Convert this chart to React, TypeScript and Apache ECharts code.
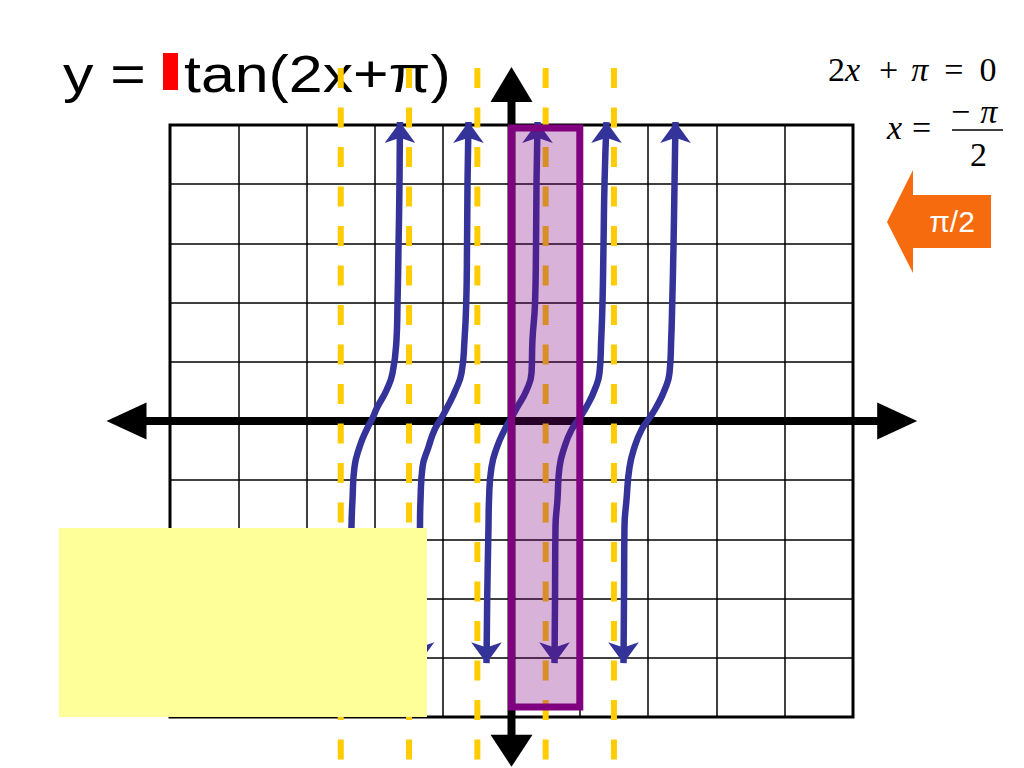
import React, { useEffect, useRef } from "react";
import * as echarts from "echarts";

// Grid: 10 x 10 cells, one cell = π/2 horizontally, one unit vertically
const axisMin = -5;
const axisMax = 5;
const axisStep = 1;

// Vertical asymptotes of y = tan(2x+π): x = π/4 + kπ/2 (in grid units of π/2)
const asymptoteX = [-2.5, -1.5, -0.5, 0.5, 1.5];
const asymptoteSpan = [5.963, -5.9];

// Branch sample heights shared by all branches
const branchY = [-4.09, -3.02, -1.79, -1.33, -0.78, -0.44, -0.15, 0.05, 0.24, 0.52, 0.81, 1.37, 1.98, 2.96, 4.02, 5.05];
// x of each branch at those heights
const branch1X = [-2.365, -2.357, -2.343, -2.328, -2.299, -2.225, -2.123, -2.035, -1.962, -1.83, -1.742, -1.684, -1.669, -1.654, -1.64, -1.633];
const branch2X = [-1.354, -1.347, -1.34, -1.332, -1.303, -1.215, -1.127, -1.025, -0.937, -0.82, -0.732, -0.688, -0.663, -0.651, -0.644, -0.63];
const branch3X = [-0.366, -0.356, -0.337, -0.329, -0.293, -0.212, -0.102, -0.004, 0.088, 0.22, 0.293, 0.307, 0.344, 0.359, 0.366, 0.381];
const branch4X = [0.63, 0.637, 0.644, 0.673, 0.703, 0.776, 0.878, 0.996, 1.098, 1.215, 1.288, 1.313, 1.332, 1.347, 1.362, 1.391];
const branch5X = [1.64, 1.647, 1.654, 1.684, 1.728, 1.801, 1.903, 2.02, 2.123, 2.24, 2.313, 2.338, 2.353, 2.372, 2.387, 2.401];
const branches = [branch1X, branch2X, branch3X, branch4X, branch5X];

// One period highlighted: x from 0 to π/2 ([x0, yTop, x1, yBottom])
const periodBox = [0, 4.95, 1, -4.83];

// Coordinate axes, arrow tip to arrow tip ([x0, y0, x1, y1])
const xAxisTips = [-5.93, 0, 5.94, 0];
const yAxisTips = [0, 5.98, 0, -5.84];

const titleLeft = "y =";
const titleRight = "tan(2x+π)";
const arrowLabel = "π/2";

const CURVE = "#333399";
const DASH = "#ffcc00";

export default function App() {
  const ref = useRef<HTMLDivElement>(null);

  useEffect(() => {
    const chart = echarts.init(ref.current!, undefined, { renderer: "svg" });

    const curveSeries = branches.map((xs, b) => ({
      type: "line",
      name: "branch" + (b + 1),
      z: 4,
      clip: false,
      smooth: 0.5,
      symbol: "none",
      showSymbol: true,
      lineStyle: { color: CURVE, width: 6.5 },
      itemStyle: { color: CURVE },
      data: xs.map((x, i) => {
        const v = [x, branchY[i]];
        if (i === 0) return { value: v, symbol: "arrow", symbolSize: [23, 21], symbolRotate: 180 };
        if (i === xs.length - 1) return { value: v, symbol: "arrow", symbolSize: [23, 21], symbolRotate: 0 };
        return v;
      }),
    }));

    const dashSeries = asymptoteX.map((x) => ({
      type: "line",
      z: 3,
      clip: false,
      symbol: "none",
      lineStyle: { color: DASH, width: 6, type: [20, 19.5] },
      data: asymptoteSpan.map((y) => [x, y]),
    }));

    // arrow head sizes (pixels): [length at start, length at end, half width]
    const headSizes = [
      [40, 40, 18.5],
      [35, 32, 21],
    ];
    const axisSeries = {
      type: "custom",
      z: 2,
      clip: false,
      encode: { x: [0, 2], y: [1, 3] },
      data: [xAxisTips, yAxisTips],
      renderItem: (params: any, api: any) => {
        const p0 = api.coord([api.value(0), api.value(1)]);
        const p1 = api.coord([api.value(2), api.value(3)]);
        const [l0, l1, w] = headSizes[params.dataIndex];
        const dx = p1[0] - p0[0];
        const dy = p1[1] - p0[1];
        const len = Math.sqrt(dx * dx + dy * dy);
        const ux = dx / len;
        const uy = dy / len;
        const nx = -uy;
        const ny = ux;
        const b0 = [p0[0] + ux * l0, p0[1] + uy * l0];
        const b1 = [p1[0] - ux * l1, p1[1] - uy * l1];
        return {
          type: "group",
          children: [
            {
              type: "line",
              shape: {
                x1: b0[0] - ux * 2,
                y1: b0[1] - uy * 2,
                x2: b1[0] + ux * 2,
                y2: b1[1] + uy * 2,
              },
              style: { stroke: "#000", lineWidth: 8 },
            },
            {
              type: "polygon",
              shape: {
                points: [
                  [p0[0], p0[1]],
                  [b0[0] + nx * w, b0[1] + ny * w],
                  [b0[0] - nx * w, b0[1] - ny * w],
                ],
              },
              style: { fill: "#000" },
            },
            {
              type: "polygon",
              shape: {
                points: [
                  [p1[0], p1[1]],
                  [b1[0] + nx * w, b1[1] + ny * w],
                  [b1[0] - nx * w, b1[1] - ny * w],
                ],
              },
              style: { fill: "#000" },
            },
          ],
        };
      },
    };

    const boxSeries = {
      type: "custom",
      z: 5,
      clip: false,
      encode: { x: [0, 2], y: [1, 3] },
      data: [periodBox],
      renderItem: (params: any, api: any) => {
        const p0 = api.coord([api.value(0), api.value(1)]);
        const p1 = api.coord([api.value(2), api.value(3)]);
        return {
          type: "rect",
          shape: { x: p0[0], y: p0[1], width: p1[0] - p0[0], height: p1[1] - p0[1] },
          style: { fill: "rgba(128,0,128,0.3)", stroke: "#800080", lineWidth: 7 },
        };
      },
    };

    const serif = "'Liberation Serif', 'Times New Roman', serif";
    const sans = "'Liberation Sans', Arial, Helvetica, sans-serif";
    const mathRich = {
      n: { fontFamily: serif, fontSize: 34, fontStyle: "normal", color: "#000" },
      i: { fontFamily: serif, fontSize: 34, fontStyle: "italic", color: "#000" },
      s19: { width: 19, fontSize: 34 },
      s13: { width: 13, fontSize: 34 },
      s16: { width: 16, fontSize: 34 },
      s10: { width: 10, fontSize: 34 },
    };
    const tl = {
      align: "left",
      verticalAlign: "middle",
      textAlign: "left",
      textVerticalAlign: "middle",
    };

    chart.setOption({
      animation: false,
      backgroundColor: "#fff",
      grid: {
        left: 170,
        top: 125,
        width: 683,
        height: 592,
        show: true,
        borderColor: "#000",
        borderWidth: 3,
        backgroundColor: "transparent",
      },
      xAxis: {
        type: "value",
        min: axisMin,
        max: axisMax,
        interval: axisStep,
        axisLine: { show: false },
        axisTick: { show: false },
        axisLabel: { show: false },
        splitLine: { show: true, lineStyle: { color: "#000", width: 1.5 } },
      },
      yAxis: {
        type: "value",
        min: axisMin,
        max: axisMax,
        interval: axisStep,
        axisLine: { show: false },
        axisTick: { show: false },
        axisLabel: { show: false },
        splitLine: { show: true, lineStyle: { color: "#000", width: 1.5 } },
      },
      series: [axisSeries, ...dashSeries, ...curveSeries, boxSeries],
      graphic: [
        {
          type: "text",
          z: 0,
          x: 63,
          y: 74,
          scaleX: 1.17,
          style: { text: titleLeft, fontFamily: sans, fontSize: 52, fill: "#000", ...tl },
        },
        {
          type: "rect",
          z: 0,
          shape: { x: 163, y: 53, width: 15, height: 37 },
          style: { fill: "#ff0000" },
        },
        {
          type: "text",
          z: 0,
          x: 184,
          y: 74,
          scaleX: 1.17,
          style: { text: titleRight, fontFamily: sans, fontSize: 52, fill: "#000", ...tl },
        },
        {
          type: "text",
          z: 0,
          x: 828,
          y: 69,
          style: {
            text: "{n|2}{i|x}{s19| }{n|+}{s13| }{i|π}{s16| }{n|=}{s16| }{n|0}",
            rich: mathRich,
            ...tl,
          },
        },
        {
          type: "text",
          z: 0,
          x: 887,
          y: 127,
          style: { text: "{i|x}{s10| }{n|=}", rich: mathRich, ...tl },
        },
        {
          type: "text",
          z: 0,
          x: 951,
          y: 111,
          style: { text: "{n|−}{s10| }{i|π}", rich: mathRich, ...tl },
        },
        {
          type: "line",
          z: 0,
          shape: { x1: 952, y1: 130, x2: 1003, y2: 130 },
          style: { stroke: "#000", lineWidth: 1.5 },
        },
        {
          type: "text",
          z: 0,
          x: 970,
          y: 154,
          style: { text: "2", fontFamily: serif, fontSize: 34, fill: "#000", ...tl },
        },
        {
          type: "polygon",
          z: 0,
          shape: {
            points: [
              [887, 222],
              [913, 170],
              [913, 195],
              [991, 195],
              [991, 248],
              [913, 248],
              [913, 273],
            ],
          },
          style: { fill: "#f76b0f" },
        },
        {
          type: "text",
          z: 1,
          x: 952,
          y: 221,
          style: {
            text: arrowLabel,
            fontFamily: sans,
            fontSize: 30,
            fill: "#fff",
            align: "center",
            verticalAlign: "middle",
            textAlign: "center",
            textVerticalAlign: "middle",
          },
        },
        {
          type: "rect",
          z: 100,
          shape: { x: 59, y: 528, width: 368, height: 189 },
          style: { fill: "#ffff99" },
        },
      ],
    });

    return () => chart.dispose();
  }, []);

  return (
    <div
      ref={ref}
      style={{ position: "absolute", left: 0, top: 0, width: 1024, height: 768, background: "#fff" }}
    />
  );
}
